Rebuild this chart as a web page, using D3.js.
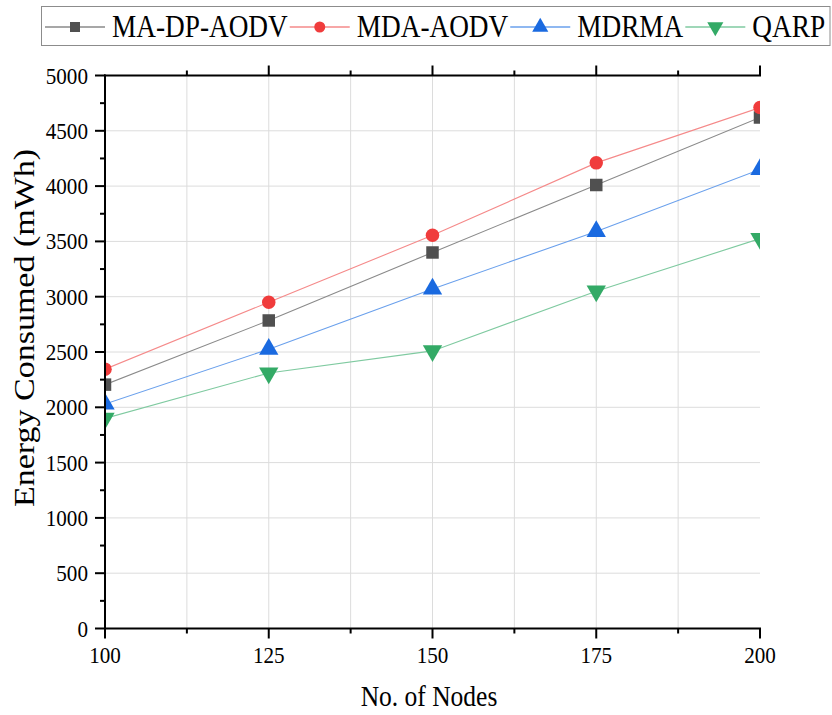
<!DOCTYPE html>
<html lang="en">
<head>
    <meta charset="UTF-8">
    <title>Energy Consumed</title>
    <style>
        body { margin: 0; background: #fff; }
        text { font-family: "Liberation Serif", "Times New Roman", serif; fill: #000; }
    </style>
</head>
<body>
<script src="https://cdn.jsdelivr.net/npm/d3@7"></script>
<script>
    var nodes = [100, 125, 150, 175, 200];
    var maDpAodv = [2205, 2785, 3400, 4010, 4620];
    var mdaAodv = [2345, 2950, 3555, 4210, 4710];
    var mdrma = [2030, 2525, 3070, 3590, 4150];
    var qarp = [1900, 2310, 2510, 3050, 3525];
    var seriesNames = ["MA-DP-AODV", "MDA-AODV", "MDRMA", "QARP"];
    var xTicks = [100, 125, 150, 175, 200];
    var yTicks = [0, 500, 1000, 1500, 2000, 2500, 3000, 3500, 4000, 4500, 5000];

    var width = 832, height = 715;
    var pL = 105, pR = 760, pT = 75.5, pB = 628.5;
    var squeeze = 0.88;   // the picture's text is narrow, like a condensed Times

    var series = [
        {name: seriesNames[0], values: maDpAodv, color: "#505050", line: "#8a8a8a", shape: "square"},
        {name: seriesNames[1], values: mdaAodv, color: "#f03c3c", line: "#f58a8a", shape: "circle"},
        {name: seriesNames[2], values: mdrma, color: "#1a6ae0", line: "#6aa0ec", shape: "up"},
        {name: seriesNames[3], values: qarp, color: "#33aa66", line: "#7fcaa0", shape: "down"}
    ];

    var x = d3.scaleLinear().domain([100, 200]).range([pL, pR]);
    var y = d3.scaleLinear().domain([0, 5000]).range([pB, pT]);

    var svg = d3.select("body").append("svg")
        .attr("width", width)
        .attr("height", height);

    svg.append("clipPath").attr("id", "plot")
        .append("rect")
        .attr("x", pL).attr("y", pT)
        .attr("width", pR - pL).attr("height", pB - pT);

    /* grid */
    var grid = svg.append("g");
    grid.selectAll(".gx")
        .data(d3.range(100, 200.1, 12.5).slice(1, -1))
        .enter().append("line")
        .attr("x1", function (d) { return x(d); })
        .attr("x2", function (d) { return x(d); })
        .attr("y1", pT).attr("y2", pB)
        .attr("stroke", "#dcdcdc").attr("stroke-width", 1);
    grid.selectAll(".gy")
        .data(yTicks.slice(1, -1))
        .enter().append("line")
        .attr("x1", pL).attr("x2", pR)
        .attr("y1", function (d) { return y(d); })
        .attr("y2", function (d) { return y(d); })
        .attr("stroke", "#dcdcdc").attr("stroke-width", 1);

    /* series */
    function symbolPath(shape, size) {
        if (shape == "square") return d3.symbol(d3.symbolSquare, size * size)();
        if (shape == "circle") return d3.symbol(d3.symbolCircle, Math.PI * size * size / 4)();
        return d3.symbol(d3.symbolTriangle, size * size * 0.5)();
    }

    var plot = svg.append("g").attr("clip-path", "url(#plot)");
    var line = d3.line()
        .x(function (d, i) { return x(nodes[i]); })
        .y(function (d) { return y(d); });

    series.forEach(function (s) {
        plot.append("path")
            .attr("d", line(s.values))
            .attr("fill", "none")
            .attr("stroke", s.line)
            .attr("stroke-width", 1.1);
    });
    series.forEach(function (s) {
        var size = s.shape == "square" ? 12.5 : 13.5;
        if (s.shape == "up" || s.shape == "down") size = 18;
        plot.selectAll(null)
            .data(s.values)
            .enter().append("path")
            .attr("d", symbolPath(s.shape, size))
            .attr("transform", function (d, i) {
                return "translate(" + x(nodes[i]) + "," + y(d) + ")" + (s.shape == "down" ? " rotate(180)" : "");
            })
            .attr("fill", s.color);
    });

    /* axes */
    var axes = svg.append("g").attr("stroke", "#000").attr("stroke-width", 2);
    axes.append("line").attr("x1", pL).attr("x2", pL).attr("y1", pT - 1).attr("y2", pB + 1);
    axes.append("line").attr("x1", pL - 1).attr("x2", pR + 1).attr("y1", pB).attr("y2", pB);
    axes.append("line").attr("x1", pL - 1).attr("x2", pR + 1).attr("y1", pT).attr("y2", pT);

    var xMinor = d3.range(100, 200.1, 12.5);
    axes.selectAll(".xt")
        .data(xMinor)
        .enter().append("line")
        .attr("x1", function (d) { return x(d); })
        .attr("x2", function (d) { return x(d); })
        .attr("y1", pB)
        .attr("y2", function (d) { return pB + (d % 25 == 0 ? 10 : 5); });
    axes.selectAll(".xtt")
        .data(xMinor.slice(1))
        .enter().append("line")
        .attr("x1", function (d) { return x(d); })
        .attr("x2", function (d) { return x(d); })
        .attr("y1", pT)
        .attr("y2", function (d) { return pT - (d % 25 == 0 ? 10 : 5); });
    axes.selectAll(".yt")
        .data(d3.range(0, 5001, 250))
        .enter().append("line")
        .attr("x1", pL)
        .attr("x2", function (d) { return pL - (d % 500 == 0 ? 10 : 5); })
        .attr("y1", function (d) { return y(d); })
        .attr("y2", function (d) { return y(d); });

    svg.selectAll(".xl")
        .data(xTicks)
        .enter().append("text")
        .attr("transform", function (d) { return "translate(" + x(d) + ",663) scale(0.92,1)"; })
        .attr("text-anchor", "middle")
        .attr("font-size", "23px")
        .text(function (d) { return d; });
    svg.selectAll(".yl")
        .data(yTicks)
        .enter().append("text")
        .attr("transform", function (d) { return "translate(88," + y(d) + ") scale(0.92,1)"; })
        .attr("dy", "0.35em")
        .attr("text-anchor", "end")
        .attr("font-size", "23px")
        .text(function (d) { return d; });

    svg.append("text")
        .attr("transform", "translate(429,706) scale(" + squeeze + ",1)")
        .attr("text-anchor", "middle")
        .attr("font-size", "29px")
        .text("No. of Nodes");
    svg.append("text")
        .attr("transform", "translate(34,328) rotate(-90) scale(1," + squeeze + ")")
        .attr("text-anchor", "middle")
        .attr("font-size", "34px")
        .text("Energy Consumed (mWh)");

    /* legend */
    var legend = svg.append("g");
    var box = legend.append("rect")
        .attr("x", 41.5).attr("y", 6.5).attr("height", 39)
        .attr("fill", "#fff").attr("stroke", "#8c8c8c").attr("stroke-width", 1);
    var lx = 45;
    series.forEach(function (s) {
        legend.append("line")
            .attr("x1", lx).attr("x2", lx + 60)
            .attr("y1", 27).attr("y2", 27)
            .attr("stroke", s.line).attr("stroke-width", 1.5);
        var size = s.shape == "square" ? 10 : 11;
        if (s.shape == "up" || s.shape == "down") size = 15;
        legend.append("path")
            .attr("d", symbolPath(s.shape, size))
            .attr("transform", "translate(" + (lx + 30) + ",27)" + (s.shape == "down" ? " rotate(180)" : ""))
            .attr("fill", s.color);
        var t = legend.append("text")
            .attr("transform", "translate(" + (lx + 67) + ",37) scale(" + squeeze + ",1)")
            .attr("font-size", "31px")
            .text(s.name);
        lx = lx + 67 + t.node().getComputedTextLength() * squeeze + 2;
    });
    box.attr("width", Math.min(lx + 3, 830) - 41.5);
</script>
</body>
</html>
